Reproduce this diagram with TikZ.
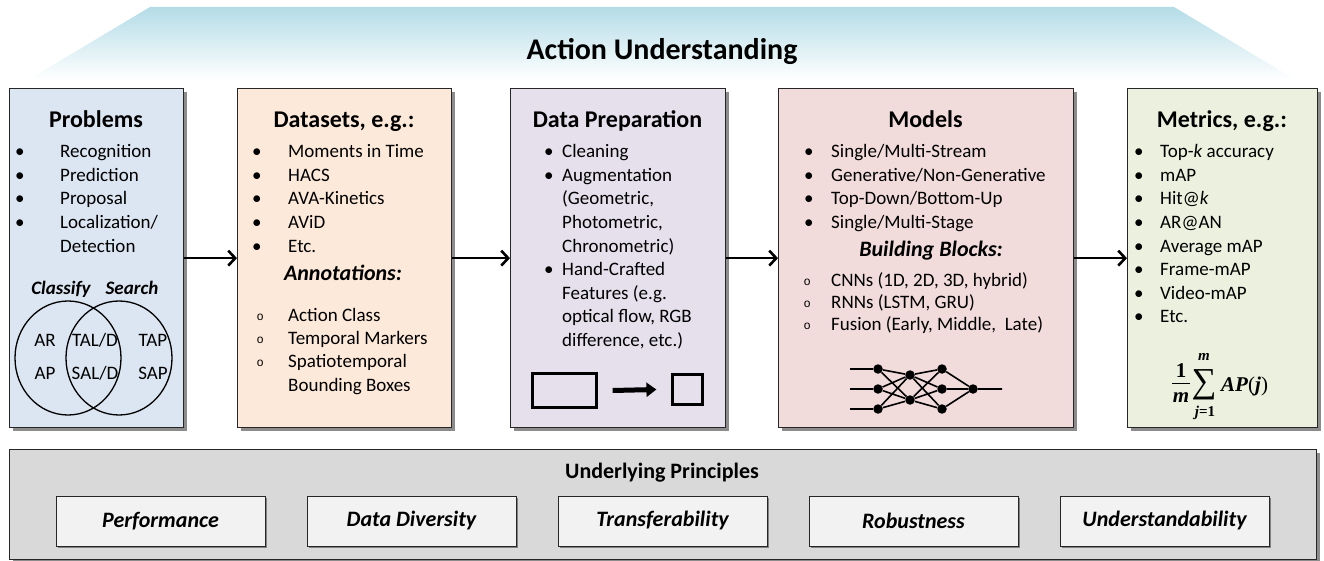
\documentclass[tikz,border=0pt]{standalone}
\usepackage{fontspec}
\setmainfont{Carlito}
\newfontfamily\monof{Liberation Mono}
\newfontfamily\serf{Liberation Serif}
\usetikzlibrary{shadows,arrows.meta}
\definecolor{cprob}{RGB}{220,230,242}
\definecolor{cdata}{RGB}{253,233,217}
\definecolor{cprep}{RGB}{229,224,236}
\definecolor{cmod}{RGB}{242,220,219}
\definecolor{cmet}{RGB}{235,241,222}
\definecolor{cbot}{RGB}{217,217,217}
\definecolor{csub}{RGB}{242,242,242}
\definecolor{ctrap}{RGB}{180,220,231}
\newcommand\bulA[1]{\makebox[#1][l]{•}}
\newcommand\bulB[1]{\makebox[#1][l]{\raisebox{1pt}{\monof\fontsize{12}{12}\selectfont o}}}
\begin{document}
\begin{tikzpicture}[x=1pt,y=-1pt,
  box/.style={draw=black!85, line width=1.3pt, anchor=north west, inner sep=0pt,
    minimum height=339pt, drop shadow={shadow xshift=3.5pt, shadow yshift=-3.5pt, opacity=0.45, fill=black}},
  subbox/.style={draw=black!85, line width=1pt, fill=csub, minimum width=209pt, minimum height=50pt,
    inner sep=0pt, font=\bfseries\itshape\fontsize{22}{26}\selectfont,
    drop shadow={shadow xshift=2pt, shadow yshift=-2pt, opacity=0.4, fill=black}},
  txt/.style={font=\fontsize{19}{23}\selectfont, inner sep=0pt, anchor=base west},
  ctxt/.style={font=\fontsize{19}{23}\selectfont, inner sep=0pt, anchor=base},
  ttl/.style={font=\bfseries\fontsize{24}{28}\selectfont, inner sep=0pt, anchor=base},
  hd/.style={font=\bfseries\itshape\fontsize{22}{26}\selectfont, inner sep=0pt, anchor=base},
  arr/.style={line width=2.6pt, -{Straight Barb[length=7pt,width=15pt]}},
  nn/.style={circle, fill=black, inner sep=0pt, minimum size=9.5pt},
  nl/.style={line width=1.6pt},
  fbig/.style={inner sep=0pt, font=\serf\bfseries\itshape\fontsize{21}{24}\selectfont},
  fsmall/.style={inner sep=0pt, font=\serf\bfseries\itshape\fontsize{15}{18}\selectfont}
]
\useasboundingbox (0,0) rectangle (1324,561);
% top banner
\shade[top color=ctrap, bottom color=white] (150,7) -- (1174,7) -- (1296,80) -- (28,80) -- cycle;
\node[font=\bfseries\fontsize{30}{34}\selectfont, inner sep=0pt, anchor=base] (title) at (662,60) {Action Understanding};

% main boxes
\node[box, fill=cprob, minimum width=174pt] (prob) at (9,88) {};
\node[box, fill=cdata, minimum width=214pt] (data) at (237,88) {};
\node[box, fill=cprep, minimum width=215pt] (prep) at (510,88) {};
\node[box, fill=cmod, minimum width=295pt] (mod) at (778,88) {};
\node[box, fill=cmet, minimum width=190pt] (met) at (1127,88) {};

\draw[arr] (prob.east) -- (data.west);
\draw[arr] (data.east) -- (prep.west);
\draw[arr] (prep.east) -- (mod.west);
\draw[arr] (mod.east) -- (met.west);

% Problems
\node[ttl] (probt) at (96,128) {Problems};
\node[txt] (pl0) at (15,158) {\bulA{45pt}Recognition};
\node[txt] (pl1) at (15,181.5) {\bulA{45pt}Prediction};
\node[txt] (pl2) at (15,205) {\bulA{45pt}Proposal};
\node[txt] (pl3) at (15,228.5) {\bulA{45pt}Localization/};
\node[txt] (pl4) at (15,252) {\hspace*{45pt}Detection};
\node[font=\bfseries\itshape\fontsize{19}{23}\selectfont, inner sep=0pt, anchor=base] (cls) at (61,294) {Classify};
\node[font=\bfseries\itshape\fontsize{19}{23}\selectfont, inner sep=0pt, anchor=base] (srch) at (132,294) {Search};
\draw[line width=1.3pt] (68,358) ellipse [x radius=53, y radius=57];
\draw[line width=1.3pt] (119,358) ellipse [x radius=53, y radius=57];
\node[ctxt] (ar) at (45,346) {AR};
\node[ctxt] (ap) at (45,379) {AP};
\node[ctxt] (tald) at (95,346) {TAL/D};
\node[ctxt] (sald) at (95,379) {SAL/D};
\node[ctxt] (tap) at (153,346) {TAP};
\node[ctxt] (sap) at (153,379) {SAP};

% Datasets
\node[ttl] (datat) at (344,128) {Datasets, e.g.:};
\node[txt] (dl0) at (252,158) {\bulA{36pt}Moments in Time};
\node[txt] (dl1) at (252,181.5) {\bulA{36pt}HACS};
\node[txt] (dl2) at (252,205) {\bulA{36pt}AVA-Kinetics};
\node[txt] (dl3) at (252,228.5) {\bulA{36pt}AViD};
\node[txt] (dl4) at (252,252) {\bulA{36pt}Etc.};
\node[hd] (annt) at (343,280) {Annotations:};
\node[txt] (da0) at (256.5,321) {\bulB{31.5pt}Action Class};
\node[txt] (da1) at (256.5,344.3) {\bulB{31.5pt}Temporal Markers};
\node[txt] (da2) at (256.5,367.6) {\bulB{31.5pt}Spatiotemporal};
\node[txt] (da3) at (256.5,391) {\hspace*{31.5pt}Bounding Boxes};

% Data preparation
\node[ttl] (prept) at (617.5,128) {Data Preparation};
\node[txt] (pp0) at (544,158) {\bulA{18pt}Cleaning};
\node[txt] (pp1) at (544,181.5) {\bulA{18pt}Augmentation};
\node[txt] (pp2) at (544,205) {\hspace*{18pt}(Geometric,};
\node[txt] (pp3) at (544,228.5) {\hspace*{18pt}Photometric,};
\node[txt] (pp4) at (544,252) {\hspace*{18pt}Chronometric)};
\node[txt] (pp5) at (544,275.5) {\bulA{18pt}Hand-Crafted};
\node[txt] (pp6) at (544,299) {\hspace*{18pt}Features (e.g.};
\node[txt] (pp7) at (544,322.5) {\hspace*{18pt}optical flow, RGB};
\node[txt] (pp8) at (544,346) {\hspace*{18pt}difference, etc.)};
\node[draw, line width=2.2pt, minimum width=64pt, minimum height=34pt, inner sep=0pt] (bigr) at (564.5,390.5) {};
\node[draw, line width=2.2pt, minimum width=30pt, minimum height=30pt, inner sep=0pt] (smr) at (687.5,389.5) {};
\draw[line width=5pt, line cap=butt, -{Triangle[length=10pt,width=14pt]}] ([xshift=15pt]bigr.east) -- ([xshift=-15pt]smr.west);

% Models
\node[ttl] (modt) at (925.5,128) {Models};
\node[txt] (ml0) at (804,158) {\bulA{27pt}Single/Multi-Stream};
\node[txt] (ml1) at (804,181.5) {\bulA{27pt}Generative/Non-Generative};
\node[txt] (ml2) at (804,205) {\bulA{27pt}Top-Down/Bottom-Up};
\node[txt] (ml3) at (804,228.5) {\bulA{27pt}Single/Multi-Stage};
\node[hd] (bbt) at (931,257) {Building Blocks:};
\node[txt] (mb0) at (803.5,286) {\bulB{27.5pt}CNNs (1D, 2D, 3D, hybrid)};
\node[txt] (mb1) at (803.5,308) {\bulB{27.5pt}RNNs (LSTM, GRU)};
\node[txt] (mb2) at (803.5,330) {\bulB{27.5pt}Fusion (Early, Middle,~ Late)};
% network
\node[nn] (a1) at (878,369) {};
\node[nn] (a2) at (878,389) {};
\node[nn] (a3) at (878,409) {};
\node[nn] (b1) at (910,375) {};
\node[nn] (b2) at (910,400) {};
\node[nn] (c1) at (942,369) {};
\node[nn] (c2) at (942,389) {};
\node[nn] (c3) at (942,409) {};
\node[nn] (o1) at (973,389) {};
\coordinate (in1) at (850,369);
\coordinate (in2) at (850,389);
\coordinate (in3) at (850,409);
\coordinate (out) at (1002,389);
\draw[nl] (in1) -- (a1) (in2) -- (a2) (in3) -- (a3);
\draw[nl] (a1) -- (b1) (a1) -- (b2) (a2) -- (b1) (a2) -- (b2) (a3) -- (b1) (a3) -- (b2);
\draw[nl] (b1) -- (c1) (b1) -- (c2) (b1) -- (c3) (b2) -- (c1) (b2) -- (c2) (b2) -- (c3);
\draw[nl] (c1) -- (o1) (c2) -- (o1) (c3) -- (o1) (o1) -- (out);

% Metrics
\node[ttl] (mett) at (1222,128) {Metrics, e.g.:};
\node[txt] (mt0) at (1134,158) {\bulA{26pt}Top-\textit{k} accuracy};
\node[txt] (mt1) at (1134,181.5) {\bulA{26pt}mAP};
\node[txt] (mt2) at (1134,205) {\bulA{26pt}Hit@\textit{k}};
\node[txt] (mt3) at (1134,228.5) {\bulA{26pt}AR@AN};
\node[txt] (mt4) at (1134,252) {\bulA{26pt}Average mAP};
\node[txt] (mt5) at (1134,275.5) {\bulA{26pt}Frame-mAP};
\node[txt] (mt6) at (1134,299) {\bulA{26pt}Video-mAP};
\node[txt] (mt7) at (1134,322.5) {\bulA{26pt}Etc.};
% formula  (1/m) sum_{j=1}^{m} AP(j)
\node[fbig, font=\serf\bfseries\fontsize{21}{24}\selectfont, anchor=base] (fone) at (1181,377) {1};
\node[fbig, anchor=base] (fden) at (1181,402) {m};
\coordinate (barl) at (1172,383.5);
\coordinate (barr) at (1190,383.5);
\draw[line width=1.5pt] (barl) -- (barr);
\node[inner sep=0pt, font=\serf\fontsize{35}{40}\selectfont] (fsig) at (1204,385) {∑};
\node[fsmall, anchor=base] (fsup) at (1204,360) {m};
\node[fsmall, anchor=base] (fsub) at (1205,416) {j\textup{=1}};
\node[fbig, anchor=base west] (fap) at (1221,391) {AP\textup{\mdseries(}j\textup{\mdseries)}};

% Underlying principles
\node[draw=black!85, line width=1.3pt, fill=cbot, anchor=north west, minimum width=1307pt, minimum height=110pt, inner sep=0pt,
  drop shadow={shadow xshift=3.5pt, shadow yshift=-3.5pt, opacity=0.45, fill=black}] (bot) at (9,449) {};
\node[font=\bfseries\fontsize{22}{26}\selectfont, inner sep=0pt, anchor=base] (upt) at (662,478) {Underlying Principles};
\node[subbox] (s1) at (160.5,521) {Performance};
\node[subbox] (s2) at (411.5,521) {Data Diversity};
\node[subbox] (s3) at (662.5,521) {Transferability};
\node[subbox] (s4) at (913.5,521) {Robustness};
\node[subbox] (s5) at (1164.5,521) {Understandability};
\end{tikzpicture}
\end{document}
